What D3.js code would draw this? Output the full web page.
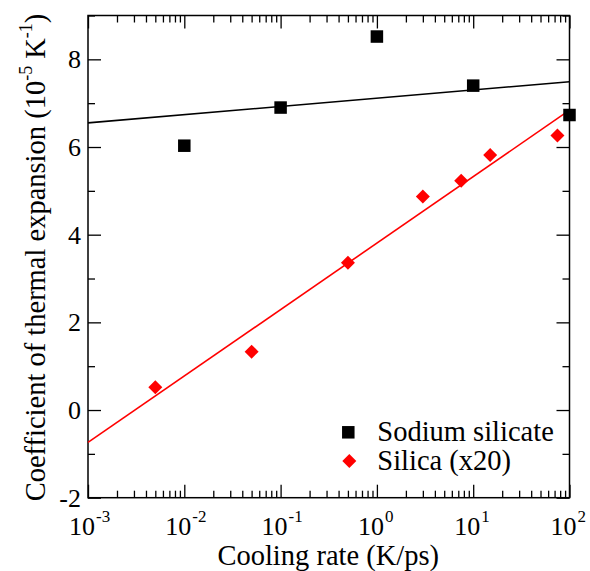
<!DOCTYPE html>
<html><head><meta charset="utf-8">
<script src="https://cdn.jsdelivr.net/npm/d3@7"></script>
</head>
<body style="margin:0">
<svg id="chart" width="590" height="571"></svg>
<script>
// ---- data ----
const silicateRates = [0.01, 0.1, 1, 10, 100];
const silicateCTE   = [6.03, 6.90, 8.52, 7.40, 6.73];
const silicaRates   = [0.005, 0.05, 0.5, 3, 7.5, 15, 75];
const silicaCTE     = [0.52, 1.33, 3.36, 4.87, 5.23, 5.82, 6.26];
const fitRates      = [0.001, 100];
const silicateFit   = [6.55, 7.49];
const silicaFit     = [-0.74, 6.84];
const xMajorExps    = [-3, -2, -1, 0, 1, 2];
const yMajorTicks   = [-2, 0, 2, 4, 6, 8];
const yMinorTicks   = [-1, 1, 3, 5, 7, 9];
const legendLabels  = ["Sodium silicate", "Silica (x20)"];

const FONT = "Liberation Serif";
const svg = d3.select("#chart").attr("font-family", FONT);
const L = 88, R = 569.5, T = 15.5, B = 497.7;
const x = d3.scaleLog().domain([1e-3, 1e2]).range([L, R]);
const y = d3.scaleLinear().domain([-2, 9]).range([B, T]);

const majorX = xMajorExps.map(e => Math.pow(10, e));
const minorX = [];
for (let e = -3; e < 2; e++) for (let k = 2; k <= 9; k++) minorX.push(k * Math.pow(10, e));

const MAJ = 13, MIN = 7;
function styleAxis(g){
  g.select(".domain").remove();
  g.selectAll("line").attr("stroke","#000").attr("stroke-width",1.3);
}
function addAxis(axisFn, scale, vals, size, transform){
  svg.append("g").attr("transform",transform)
    .call(axisFn(scale).tickValues(vals).tickSize(-size).tickFormat(""))
    .call(styleAxis);
}
addAxis(d3.axisBottom, x, majorX, MAJ, `translate(0,${B})`);
addAxis(d3.axisBottom, x, minorX, MIN, `translate(0,${B})`);
addAxis(d3.axisTop, x, majorX, MAJ, `translate(0,${T})`);
addAxis(d3.axisTop, x, minorX, MIN, `translate(0,${T})`);
addAxis(d3.axisLeft, y, yMajorTicks, MAJ, `translate(${L},0)`);
addAxis(d3.axisLeft, y, yMinorTicks, MIN, `translate(${L},0)`);
addAxis(d3.axisRight, y, yMajorTicks, MAJ, `translate(${R},0)`);
addAxis(d3.axisRight, y, yMinorTicks, MIN, `translate(${R},0)`);

// frame
svg.append("rect").attr("x",L).attr("y",T).attr("width",R-L).attr("height",B-T)
  .attr("fill","none").attr("stroke","#000").attr("stroke-width",1.5);

// y tick labels
svg.selectAll("text.ytl").data(yMajorTicks).join("text").attr("class","ytl")
  .attr("font-family",FONT)
  .attr("x", L - 7).attr("y", d => y(d)).attr("dy","0.34em")
  .attr("text-anchor","end").attr("font-size",26)
  .text(d => d);

// x tick labels: base "10" plus raised exponent
svg.selectAll("text.xtl").data(xMajorExps).join("text").attr("class","xtl")
  .attr("font-family",FONT)
  .attr("x", d => x(Math.pow(10,d)) - 6).attr("y", 535)
  .attr("text-anchor","middle").attr("font-size",26)
  .text("10");
svg.selectAll("text.xte").data(xMajorExps).join("text").attr("class","xte")
  .attr("font-family",FONT)
  .attr("x", d => x(Math.pow(10,d)) + 8).attr("y", 521.5)
  .attr("font-size",17)
  .text(d => d);

// axis titles
svg.append("text").attr("font-family",FONT).attr("x",(L+R)/2 - 0.5).attr("y",565).attr("text-anchor","middle")
  .attr("font-size",28.5).text("Cooling rate (K/ps)");
const yt = svg.append("text").attr("font-family",FONT).attr("transform",`translate(45,${257.5}) rotate(-90)`)
  .attr("text-anchor","middle").attr("font-size",28.5);
yt.append("tspan").text("Coefficient of thermal expansion (10");
yt.append("tspan").attr("font-size",18).attr("dy",-13).text("-5");
yt.append("tspan").attr("dy",13).text(" K");
yt.append("tspan").attr("font-size",18).attr("dy",-13).text("-1");
yt.append("tspan").attr("dy",13).text(")");

// fit lines
const line = d3.line().x(d => x(d[0])).y(d => y(d[1]));
svg.append("path").datum(fitRates.map((r,i)=>[r, silicateFit[i]]))
  .attr("d", line).attr("stroke","#000").attr("stroke-width",1.6).attr("fill","none");
svg.append("path").datum(fitRates.map((r,i)=>[r, silicaFit[i]]))
  .attr("d", line).attr("stroke","#ff0000").attr("stroke-width",1.6).attr("fill","none");

// markers
const SQ = 12.5, DI = 7;
svg.append("g").selectAll("rect").data(silicateRates.map((r,i)=>[r, silicateCTE[i]])).join("rect")
  .attr("x", d => x(d[0]) - SQ/2).attr("y", d => y(d[1]) - SQ/2)
  .attr("width", SQ).attr("height", SQ).attr("fill","#000");
const diamond = `M0,${-DI}L${DI},0L0,${DI}L${-DI},0Z`;
svg.append("g").selectAll("path").data(silicaRates.map((r,i)=>[r, silicaCTE[i]])).join("path")
  .attr("transform", d => `translate(${x(d[0])},${y(d[1])})`)
  .attr("d", diamond).attr("fill","#ff0000");

// legend
svg.append("rect").attr("x",348.3-SQ/2).attr("y",432.3-SQ/2).attr("width",SQ).attr("height",SQ).attr("fill","#000");
svg.append("path").attr("transform","translate(349.3,461)").attr("d",diamond).attr("fill","#ff0000");
svg.selectAll("text.leg").data(legendLabels).join("text").attr("class","leg")
  .attr("font-family",FONT)
  .attr("x",377.3).attr("y",(d,i)=>441 + i*28.5).attr("font-size",28.5).text(d=>d);
</script>
</body></html>
